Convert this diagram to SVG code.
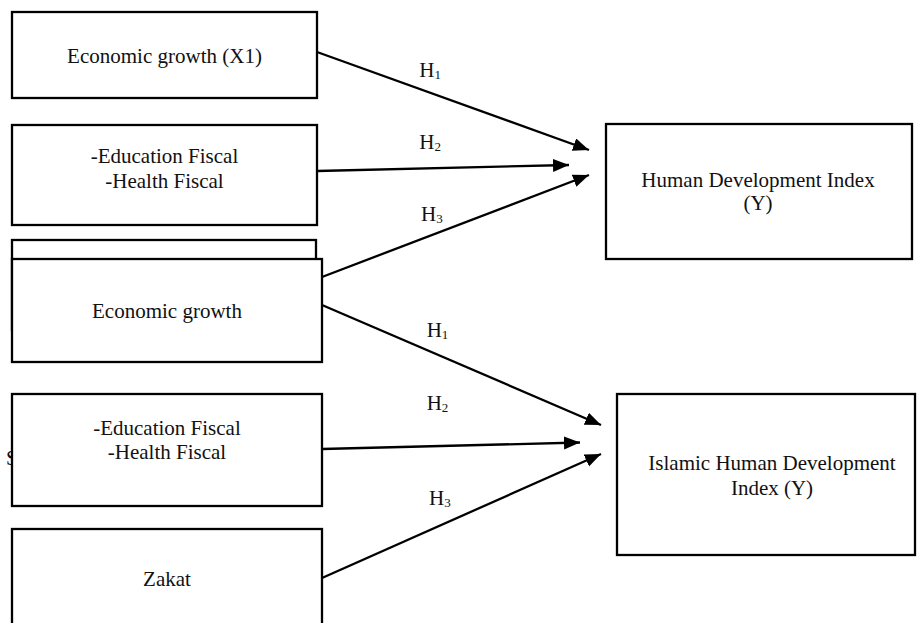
<svg xmlns="http://www.w3.org/2000/svg" width="917" height="623" viewBox="0 0 917 623">
<style>
.box{fill:#fff;stroke:#000;stroke-width:2.3}
.t{font-family:"Liberation Serif","Times New Roman",serif;font-size:21px;fill:#111;text-anchor:middle}
.h{font-family:"Liberation Serif","Times New Roman",serif;font-size:21px;fill:#111}
.sub{font-size:13px}
.c{stroke:#000;stroke-width:2.3;fill:none;marker-end:url(#ah)}
</style>
<defs>
<marker id="ah" markerUnits="userSpaceOnUse" markerWidth="17" markerHeight="14" refX="16" refY="6.5" orient="auto">
<path d="M0,0 L16,6.5 L0,13 z" fill="#000"/>
</marker>
</defs>
<text class="h" x="6" y="465">S</text>
<g id="n1"><rect class="box" x="12" y="12" width="305" height="86"/><text class="t" x="164.5" y="62.5">Economic growth (X1)</text></g>
<g id="n2"><rect class="box" x="12" y="125" width="305" height="100"/><text class="t" x="164.5" y="163">-Education Fiscal</text><text class="t" x="164.5" y="188">-Health Fiscal</text></g>
<g id="n3"><rect class="box" x="12" y="240" width="304" height="90"/></g>
<g id="n4"><rect class="box" x="12" y="259" width="310" height="103"/><text class="t" x="167" y="318">Economic growth</text></g>
<g id="n5"><rect class="box" x="12" y="394" width="310" height="112"/><text class="t" x="167" y="435">-Education Fiscal</text><text class="t" x="167" y="459">-Health Fiscal</text></g>
<g id="n6"><rect class="box" x="12" y="529" width="310" height="120"/><text class="t" x="167" y="585.5">Zakat</text></g>
<g id="n7"><rect class="box" x="606" y="124" width="306" height="135"/><text class="t" x="758" y="187">Human Development Index</text><text class="t" x="758" y="210">(Y)</text></g>
<g id="n8"><rect class="box" x="617" y="394" width="298" height="161"/><text class="t" x="772" y="470">Islamic Human Development</text><text class="t" x="772" y="495">Index (Y)</text></g>
<g id="connectors">
<line class="c" x1="317" y1="52" x2="589" y2="150"/>
<line class="c" x1="317" y1="171" x2="569" y2="165"/>
<line class="c" x1="322" y1="277" x2="589" y2="175"/>
<line class="c" x1="322" y1="305" x2="601" y2="425"/>
<line class="c" x1="322" y1="449" x2="580" y2="442.5"/>
<line class="c" x1="322" y1="578" x2="601" y2="454"/>
<text class="h" x="419.3" y="77">H<tspan class="sub" dy="2">1</tspan></text>
<text class="h" x="419.3" y="149.3">H<tspan class="sub" dy="2">2</tspan></text>
<text class="h" x="421" y="220.7">H<tspan class="sub" dy="2">3</tspan></text>
<text class="h" x="426.7" y="336.7">H<tspan class="sub" dy="2">1</tspan></text>
<text class="h" x="426.7" y="410">H<tspan class="sub" dy="2">2</tspan></text>
<text class="h" x="429" y="505">H<tspan class="sub" dy="2">3</tspan></text>
</g>
</svg>
